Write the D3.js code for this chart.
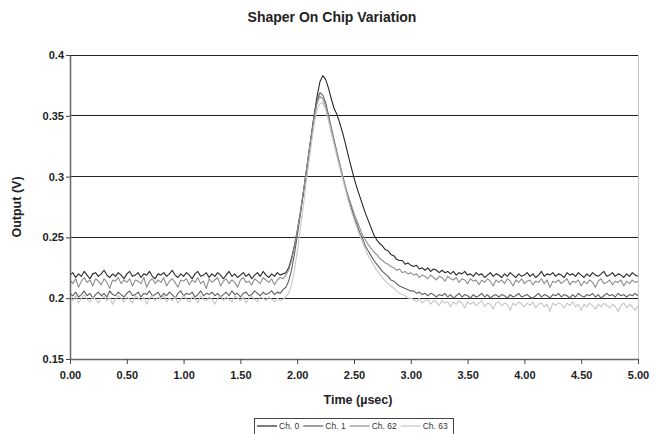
<!DOCTYPE html>
<html>
<head>
<meta charset="utf-8">
<script src="https://cdnjs.cloudflare.com/ajax/libs/d3/7.8.5/d3.min.js"></script>
<style>
  html, body { margin: 0; padding: 0; background: #fff; }
  svg { display: block; }
</style>
</head>
<body>
<svg id="chart" width="664" height="434"></svg>
<script>
const timeStep = 0.025;
const seriesNames = ['Ch. 0', 'Ch. 1', 'Ch. 62', 'Ch. 63'];
const seriesColors = ['#262626', '#5e5e5e', '#8e8e8e', '#c6c6c6'];

const ch0 = [
  219, 221, 217, 220, 218, 222, 219, 216, 220, 221,
  218, 220, 223, 219, 217, 220, 218, 221, 219, 216,
  220, 222, 218, 219, 221, 217, 220, 219, 222, 218,
  216, 220, 219, 221, 218, 220, 223, 219, 217, 220,
  218, 221, 219, 216, 220, 222, 218, 219, 221, 217,
  220, 218, 221, 219, 216, 219, 222, 218, 220, 217,
  219, 221, 218, 220, 216, 219, 221, 218, 222, 219,
  217, 220, 218, 221, 219, 220,
  221, 225, 233, 243, 255, 269, 284, 300, 317, 334,
  351, 366, 378, 383, 380, 373, 364, 356, 351, 344,
  336, 327, 317, 308, 299, 291, 284, 277, 270, 264,
  258, 252, 248, 245, 243, 240, 239, 236, 235, 232,
  231, 231, 228, 229, 227,
  226, 227, 224, 225, 223, 225, 222, 224, 223, 221,
  223, 221, 222, 220, 222, 219, 221, 220, 222, 219,
  220, 218, 221, 219, 220, 217, 219, 221, 218, 220,
  219, 217, 220, 218, 221, 219, 217, 220, 218, 219,
  221, 218, 220, 217, 219, 222, 218, 220, 219, 221,
  218, 220, 219, 217, 221, 219, 220, 218, 221, 219,
  217, 220, 218, 221, 219, 218, 220, 222, 218, 219,
  221, 218, 220, 219, 217, 220, 218, 221, 219, 218
];
const ch1 = [
  204, 202, 205, 201, 203, 206, 202, 204, 200, 203,
  205, 202, 204, 201, 206, 203, 202, 205, 203, 201,
  204, 206, 202, 203, 205, 201, 204, 203, 206, 202,
  203, 205, 201, 204, 202, 205, 203, 200, 204, 206,
  202, 204, 203, 205, 201, 203, 206, 202, 204, 203,
  205, 202, 204, 201, 203, 205, 202, 206, 203, 204,
  201, 204, 205, 202, 203, 206, 204, 202, 205, 203,
  204, 206, 203, 205, 204, 207,
  209, 214, 223, 236, 251, 267, 284, 301, 318, 335,
  351, 363, 369, 367, 361, 351, 340, 330, 320, 310,
  300, 291, 282, 275, 267, 261, 254, 249, 243, 239,
  235, 231, 228, 225, 222, 220, 218, 215, 214, 212,
  210, 209, 208, 207, 206,
  206, 204, 205, 203, 204, 202, 204, 203, 201, 203,
  202, 204, 201, 203, 200, 202, 204, 201, 203, 202,
  200, 203, 201, 202, 204, 201, 203, 200, 202, 203,
  201, 203, 202, 200, 203, 201, 202, 204, 201, 202,
  203, 201, 200, 202, 204, 201, 203, 202, 200, 203,
  202, 204, 201, 203, 202, 200, 203, 201, 204, 202,
  201, 203, 202, 204, 201, 203, 200, 202, 204, 202,
  203, 201, 204, 202, 203, 201, 203, 202, 204, 202
];
const ch62 = [
  215, 212, 216, 209, 214, 217, 213, 215, 210, 216,
  214, 211, 216, 213, 208, 215, 214, 217, 212, 215,
  213, 216, 210, 215, 214, 212, 217, 209, 214, 216,
  212, 215, 213, 217, 210, 214, 216, 213, 209, 215,
  214, 216, 211, 215, 213, 217, 212, 214, 208, 216,
  213, 215, 217, 210, 214, 216, 212, 215, 213, 209,
  215, 217, 213, 214, 211, 216, 214, 212, 217, 215,
  213, 216, 211, 215, 217, 216,
  219, 223, 231, 242, 255, 269, 285, 301, 318, 334,
  349, 360, 366, 364, 358, 349, 339, 329, 319, 310,
  301, 292, 284, 277, 270, 264, 258, 252, 248, 244,
  241, 238, 236, 233, 231, 229, 228, 226, 225, 223,
  224, 221, 222, 220, 221,
  219, 220, 217, 219, 218, 216, 219, 217, 215, 218,
  217, 214, 218, 216, 215, 217, 213, 216, 215, 212,
  216, 214, 215, 211, 215, 213, 216, 214, 210, 215,
  213, 215, 212, 216, 214, 210, 215, 213, 216, 212,
  214, 215, 211, 214, 213, 216, 212, 215, 209, 214,
  213, 215, 212, 214, 216, 211, 214, 213, 215, 210,
  214, 212, 215, 213, 209, 214, 216, 212, 213, 215,
  211, 214, 213, 215, 210, 214, 212, 215, 213, 214
];
const ch63 = [
  201, 198, 202, 196, 200, 203, 199, 197, 201, 199,
  196, 200, 202, 198, 201, 195, 199, 202, 200, 197,
  201, 199, 196, 202, 200, 198, 201, 195, 200, 202,
  198, 201, 199, 203, 197, 200, 198, 201, 196, 199,
  202, 199, 197, 201, 200, 196, 202, 199, 198, 201,
  199, 195, 200, 202, 198, 201, 199, 197, 202, 200,
  198, 201, 196, 200, 202, 199, 197, 201, 200, 198,
  201, 199, 197, 200, 198, 199,
  201, 204, 211, 223, 238, 255, 273, 292, 310, 327,
  343, 355, 360, 361, 355, 346, 336, 326, 316, 307,
  298, 289, 280, 272, 265, 258, 252, 246, 240, 235,
  231, 227, 223, 220, 217, 214, 212, 210, 208, 206,
  204, 203, 202, 200, 200,
  199, 197, 200, 196, 198, 199, 195, 198, 197, 194,
  198, 196, 197, 193, 197, 195, 198, 196, 192, 197,
  195, 197, 194, 196, 198, 193, 196, 195, 191, 196,
  197, 194, 196, 195, 190, 196, 194, 197, 195, 193,
  196, 194, 197, 192, 195, 196, 193, 195, 189, 196,
  194, 196, 195, 192, 196, 194, 197, 193, 195, 190,
  195, 193, 196, 194, 191, 195, 193, 196, 194, 192,
  195, 193, 189, 194, 196, 192, 195, 193, 190, 194
];
const seriesValues = [ch0, ch1, ch62, ch63];

const xTicks = [0, 0.5, 1, 1.5, 2, 2.5, 3, 3.5, 4, 4.5, 5];
const yTicks = [0.15, 0.2, 0.25, 0.3, 0.35, 0.4];

const FONT = "'Liberation Sans', Arial, sans-serif";
const W = 664, H = 434;
const mL = 70, mR = 26, mT = 55, mB = 75;

const svg = d3.select('#chart');
const x = d3.scaleLinear().domain([0, 5]).range([mL, W - mR]);
const y = d3.scaleLinear().domain([0.15, 0.4]).range([H - mB, mT]);

// gridlines
svg.append('g').selectAll('line').data(yTicks.filter(t => t > 0.15)).join('line')
  .attr('x1', mL).attr('x2', W - mR).attr('y1', d => y(d)).attr('y2', d => y(d))
  .attr('stroke', '#222').attr('stroke-width', 1).attr('shape-rendering', 'crispEdges');
// right border
svg.append('line').attr('x1', W - mR).attr('x2', W - mR).attr('y1', mT).attr('y2', H - mB)
  .attr('stroke', '#c8c8c8').attr('shape-rendering', 'crispEdges');

// traces
const line = d3.line().x((d, i) => x(i * timeStep)).y(d => y(d / 1000));
seriesValues.forEach((vals, k) => {
  svg.append('path').datum(vals).attr('d', line).attr('fill', 'none')
    .attr('stroke', seriesColors[k]).attr('stroke-width', 1.1).attr('stroke-linejoin', 'round');
});

// axes
const xAxis = svg.append('g').attr('transform', `translate(0,${H - mB})`)
  .call(d3.axisBottom(x).tickValues(xTicks).tickFormat(d3.format('.2f')).tickSize(5).tickSizeOuter(0));
const yAxis = svg.append('g').attr('transform', `translate(${mL},0)`)
  .call(d3.axisLeft(y).tickValues(yTicks).tickFormat(d => d3.format('')(+d.toFixed(2))).tickSize(4).tickSizeOuter(0));
[xAxis, yAxis].forEach(g => {
  g.select('.domain').attr('stroke', '#666').attr('stroke-width', 1.5);
  g.selectAll('.tick line').attr('stroke', '#444');
  g.selectAll('text').attr('font-family', FONT).attr('font-size', 11).attr('font-weight', 700).attr('fill', '#222');
});
xAxis.selectAll('text').attr('dy', '1.1em');
yAxis.selectAll('text').attr('x', -6);

// titles
svg.append('text').attr('x', 332).attr('y', 22).attr('text-anchor', 'middle')
  .attr('font-family', FONT).attr('font-size', 14).attr('font-weight', 700).attr('fill', '#222')
  .text('Shaper On Chip Variation');
svg.append('text').attr('x', (mL + W - mR) / 2 + 4).attr('y', 404).attr('text-anchor', 'middle')
  .attr('font-family', FONT).attr('font-size', 12.5).attr('font-weight', 700).attr('fill', '#222')
  .text('Time (µsec)');
svg.append('text').attr('transform', `translate(21,${(mT + H - mB) / 2}) rotate(-90)`).attr('text-anchor', 'middle')
  .attr('font-family', FONT).attr('font-size', 12.5).attr('font-weight', 700).attr('fill', '#222')
  .text('Output (V)');

// legend
const lg = svg.append('g').attr('transform', 'translate(254,418)');
lg.append('rect').attr('x', 0).attr('y', 0).attr('width', 199).attr('height', 20)
  .attr('fill', '#fff').attr('stroke', '#444').attr('shape-rendering', 'crispEdges');
let lx = 3;
seriesNames.forEach((name, k) => {
  lg.append('line').attr('x1', lx).attr('x2', lx + 20).attr('y1', 8).attr('y2', 8)
    .attr('stroke', seriesColors[k]).attr('stroke-width', 1.2);
  const t = lg.append('text').attr('x', lx + 22).attr('y', 11)
    .attr('font-family', FONT).attr('font-size', 8.5).attr('fill', '#333').text(name);
  lx += 22 + t.node().getComputedTextLength() + 4;
});
</script>
</body>
</html>
